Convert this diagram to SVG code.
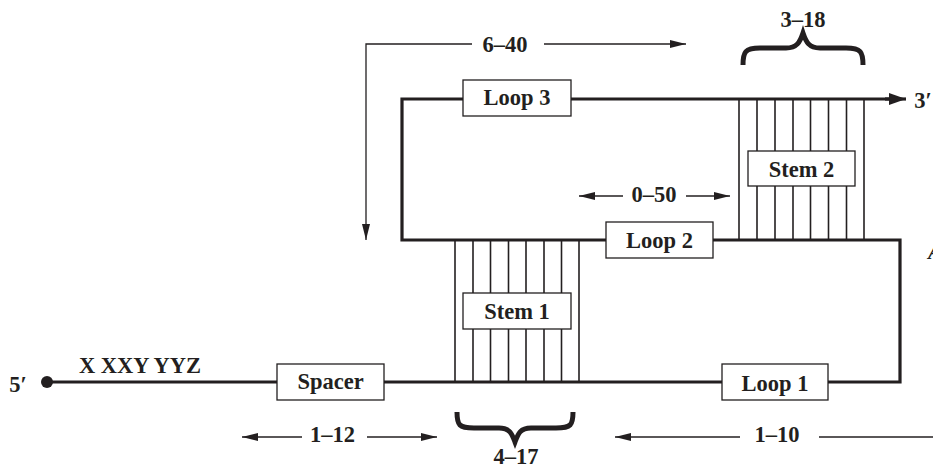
<svg xmlns="http://www.w3.org/2000/svg" width="933" height="469" viewBox="0 0 933 469">
<defs>
<style>
text{font-family:"Liberation Serif","Times New Roman",serif;font-weight:bold;font-size:22.5px;fill:#231f20;text-anchor:middle}
.strand{fill:none;stroke:#231f20;stroke-width:3.2;stroke-linejoin:miter;stroke-linecap:square}
.bp{stroke:#231f20;stroke-width:1.6}
.box{fill:#fff;stroke:#231f20;stroke-width:1.3}
.dim{fill:none;stroke:#231f20;stroke-width:1.3}
.brace{fill:none;stroke:#231f20;stroke-width:5;stroke-linejoin:miter;stroke-linecap:butt}
</style>
<marker id="ah" viewBox="0 0 16 8" refX="16" refY="4" markerWidth="16" markerHeight="8" markerUnits="userSpaceOnUse" orient="auto">
<path d="M0,0 L16,4 L0,8 Z" fill="#231f20"/>
</marker>
<marker id="big" viewBox="0 0 17 12" refX="17" refY="6" markerWidth="17" markerHeight="12" markerUnits="userSpaceOnUse" orient="auto">
<path d="M0,0 L17,6 L0,12 Z" fill="#231f20"/>
</marker>
</defs>
<rect width="933" height="469" fill="#fff"/>
<g id="connectors">
<path class="strand" d="M47,382 L900,382 L900,240 L402,240 L402,99 L890,99"/>
<line x1="885" y1="99" x2="906" y2="99" stroke="#231f20" stroke-width="3.2" marker-end="url(#big)"/>
<circle cx="47" cy="382" r="6" fill="#231f20"/>
<g id="stem1-pairs">
<line class="bp" x1="455" y1="240" x2="455" y2="382"/>
<line class="bp" x1="473" y1="240" x2="473" y2="382"/>
<line class="bp" x1="490.5" y1="240" x2="490.5" y2="382"/>
<line class="bp" x1="508.5" y1="240" x2="508.5" y2="382"/>
<line class="bp" x1="526" y1="240" x2="526" y2="382"/>
<line class="bp" x1="544" y1="240" x2="544" y2="382"/>
<line class="bp" x1="561.5" y1="240" x2="561.5" y2="382"/>
<line class="bp" x1="579" y1="240" x2="579" y2="382"/>
</g>
<g id="stem2-pairs">
<line class="bp" x1="739" y1="99" x2="739" y2="240"/>
<line class="bp" x1="757" y1="99" x2="757" y2="240"/>
<line class="bp" x1="775" y1="99" x2="775" y2="240"/>
<line class="bp" x1="793" y1="99" x2="793" y2="240"/>
<line class="bp" x1="810.5" y1="99" x2="810.5" y2="240"/>
<line class="bp" x1="828.5" y1="99" x2="828.5" y2="240"/>
<line class="bp" x1="846.5" y1="99" x2="846.5" y2="240"/>
<line class="bp" x1="864" y1="99" x2="864" y2="240"/>
</g>
<g id="dimensions">
<path class="dim" d="M472,44 L366,44 L366,240" marker-end="url(#ah)"/>
<line class="dim" x1="544" y1="44" x2="686" y2="44" marker-end="url(#ah)"/>
<line class="dim" x1="623" y1="196" x2="579" y2="196" marker-end="url(#ah)"/>
<line class="dim" x1="686" y1="196" x2="730" y2="196" marker-end="url(#ah)"/>
<line class="dim" x1="302" y1="437" x2="242" y2="437" marker-end="url(#ah)"/>
<line class="dim" x1="367" y1="437" x2="437" y2="437" marker-end="url(#ah)"/>
<line class="dim" x1="740" y1="437" x2="615" y2="437" marker-end="url(#ah)"/>
<line class="dim" x1="819" y1="437" x2="933" y2="437"/>
</g>
<path class="brace" d="M743,65 C743,52 745,48 760,48 L786,48 C797,48 800,42 803,33 C806,42 809,48 820,48 L846,48 C861,48 863,52 863,65"/>
<path class="brace" d="M457,412 C457,425 459,428 474,428 L499,428 C510,428 512,434 515,442 C518,434 520,428 531,428 L556,428 C571,428 573,425 573,412"/>
</g>
<g id="spacer"><rect class="box" x="277" y="364" width="107" height="36"/><text x="330.5" y="389">Spacer</text></g>
<g id="stem1"><rect class="box" x="463" y="293" width="108" height="36"/><text x="517" y="319">Stem 1</text></g>
<g id="loop1"><rect class="box" x="722" y="364" width="106" height="36"/><text x="775" y="391">Loop 1</text></g>
<g id="loop2"><rect class="box" x="606" y="222" width="107" height="36"/><text x="659.5" y="248">Loop 2</text></g>
<g id="stem2"><rect class="box" x="748" y="151" width="107" height="35"/><text x="801.5" y="177">Stem 2</text></g>
<g id="loop3"><rect class="box" x="463" y="80" width="108" height="36"/><text x="517" y="105">Loop 3</text></g>
<g id="labels">
<text x="18" y="392">5′</text>
<text x="923" y="108">3′</text>
<text x="140" y="373">X XXY YYZ</text>
<text x="505" y="52">6–40</text>
<text x="803" y="27">3–18</text>
<text x="654" y="202">0–50</text>
<text x="332.5" y="442">1–12</text>
<text x="777" y="442">1–10</text>
<text x="516" y="464">4–17</text>
<text x="928" y="259" style="font-style:italic;text-anchor:start">A</text>
</g>
</svg>
